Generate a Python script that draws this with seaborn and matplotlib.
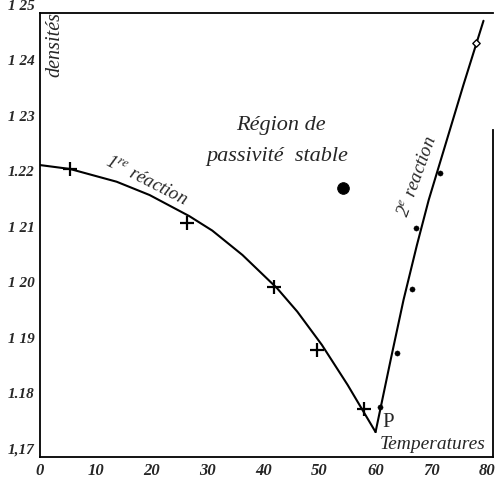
import matplotlib
matplotlib.use("Agg")
import matplotlib.pyplot as plt
import seaborn as sns
import pandas as pd

# points (temperature, density)
curve1_t = [0.0, 5.35, 13.7, 19.6, 26.7, 30.8, 36.2, 42.4, 46.0, 50.4, 55.0, 60.0]
curve1_d = [1.2226, 1.2219, 1.2196, 1.2172, 1.2134, 1.2108, 1.2064, 1.2004, 1.1962,
            1.1902, 1.1830, 1.1745]
curve2_t = [60.0, 62.7, 65.0, 67.4, 69.5, 72.2, 75.7, 79.3]
curve2_d = [1.1745, 1.1875, 1.1983, 1.2082, 1.2163, 1.2253, 1.2370, 1.2486]

# measurements
cross_t = [5.35, 26.2, 41.9, 49.5, 57.9]
cross_d = [1.2219, 1.2122, 1.2006, 1.1893, 1.1786]
dot_t = [60.8, 63.8, 66.5, 67.2, 71.6]
dot_d = [1.1790, 1.1887, 1.2003, 1.2113, 1.2212]
open_t = [77.9]
open_d = [1.2446]
blob_t = [54.2]
blob_d = [1.2185]

x_ticks = [0, 10, 20, 30, 40, 50, 60, 70, 80]
y_ticks = [1.17, 1.18, 1.19, 1.20, 1.21, 1.22, 1.23, 1.24, 1.25]
y_labels = ["1,17", "1.18", "1 19", "1 20", "1 21", "1.22", "1 23", "1 24", "1 25"]

sns.set_style("white")
plt.rcParams['font.family'] = ['Liberation Serif', 'DejaVu Serif']
plt.rcParams['mathtext.fontset'] = 'stix'

fig = plt.figure(figsize=(4.95, 4.8), dpi=100)
ax = fig.add_axes([40 / 495, 23 / 480, 453 / 495, 444 / 480])

c1 = pd.DataFrame({"t": curve1_t, "d": curve1_d})
c2 = pd.DataFrame({"t": curve2_t, "d": curve2_d})
sns.lineplot(data=c1, x="t", y="d", sort=False, color="black", lw=1.5, ax=ax)
sns.lineplot(data=c2, x="t", y="d", sort=False, color="black", lw=1.5, ax=ax)

sns.scatterplot(x=cross_t, y=cross_d, marker="+", s=90, color="black", linewidth=1.6, ax=ax, zorder=5)
sns.scatterplot(x=dot_t, y=dot_d, marker="o", s=14, color="black", edgecolor="black", ax=ax, zorder=5)
sns.scatterplot(x=open_t, y=open_d, marker="D", s=14, color="white", edgecolor="black", linewidth=1, ax=ax, zorder=5)
sns.scatterplot(x=blob_t, y=blob_d, marker="o", s=70, color="black", edgecolor="black", ax=ax, zorder=5)

ax.set_xlim(0, 81)
ax.set_ylim(1.17, 1.25)
ax.set_xticks(x_ticks)
ax.set_xticklabels([str(v) for v in x_ticks], fontstyle="italic", fontweight="bold", fontsize=12)
ax.set_yticks(y_ticks)
ax.set_yticklabels(y_labels, fontstyle="italic", fontweight="bold", fontsize=11)
for lab in ax.get_yticklabels():
    lab.set_va("bottom")
ax.tick_params(length=0, pad=4)
ax.set_xlabel("")
ax.set_ylabel("")

for s in ax.spines.values():
    s.set_color("black")
    s.set_linewidth(1.3)
ax.spines["right"].set_bounds(1.17, 1.229)

ax.text(2.7, 1.2443, "densités", rotation=90, fontstyle="italic", fontsize=14.5, ha="center", va="center")
ax.text(43.0, 1.2298, "Région de", fontstyle="italic", fontsize=16, ha="center", va="center")
ax.text(42.4, 1.2242, "passivité  stable", fontstyle="italic", fontsize=16, ha="center", va="center")
ax.text(19.0, 1.2196, r"1$^{re}$ réaction", rotation=-27, fontstyle="italic", fontsize=13.5,
        ha="center", va="center", rotation_mode="anchor")
ax.text(67.6, 1.2205, r"2$^{e}$ reaction", rotation=70, fontstyle="italic", fontsize=13.5,
        ha="center", va="center", rotation_mode="anchor")
ax.text(62.2, 1.1762, "P", fontsize=15, ha="center", va="center")
ax.text(79.6, 1.1722, "Temperatures", fontstyle="italic", fontsize=14, ha="right", va="center")

fig.savefig("out.png", dpi=100)
